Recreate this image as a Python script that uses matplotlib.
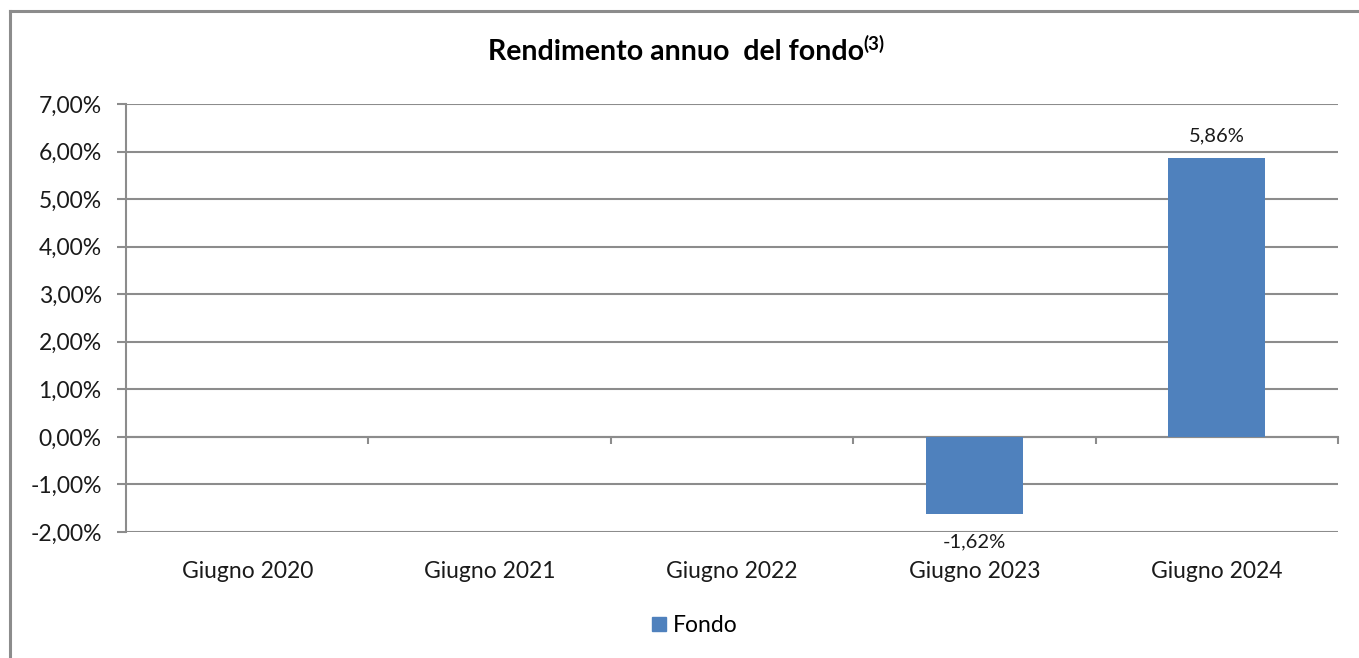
import numpy as np
import matplotlib
matplotlib.use("Agg")
import matplotlib.pyplot as plt
from matplotlib.lines import Line2D
from matplotlib.ticker import FuncFormatter, FixedLocator

plt.rcParams['font.family'] = ['Lato', 'DejaVu Sans']

# data
categories = ['Giugno 2020', 'Giugno 2021', 'Giugno 2022', 'Giugno 2023', 'Giugno 2024']
fondo = [np.nan, np.nan, np.nan, -1.62, 5.86]
series_name = 'Fondo'

W, H = 1359, 658
fig = plt.figure(figsize=(W / 100, H / 100), dpi=100)
ax = fig.add_axes([126 / W, 1 - 532 / H, (1338 - 126) / W, (532 - 104) / H])

grey = '#8c8c8c'
blue = '#4f81bd'
txt = '#1a1a1a'

x = np.arange(len(categories))
bars = ax.bar(x, fondo, width=0.4, color=blue, zorder=3)

ax.set_xlim(-0.5, len(categories) - 0.5)
ax.set_ylim(-2, 7)
ax.set_yticks(np.arange(-2, 8, 1))
ax.yaxis.set_major_formatter(FuncFormatter(lambda v, p: f'{v:.2f}%'.replace('.', ',')))
ax.grid(axis='y', color=grey, linewidth=1.5, zorder=0)
ax.tick_params(axis='y', length=6.5, width=1.5, color=grey, labelsize=16.5, pad=11, labelcolor=txt)

for s in ['top', 'right', 'bottom']:
    ax.spines[s].set_visible(False)
ax.spines['left'].set_color(grey)
ax.spines['left'].set_linewidth(1.5)

# category labels below the plot
ax.set_xticks(x)
ax.set_xticklabels(categories)
ax.tick_params(axis='x', length=0, labelsize=16.5, pad=21, labelcolor=txt)

# x axis line at zero with tick marks between categories
sec = ax.secondary_xaxis(2 / 9)
sec.xaxis.set_major_locator(FixedLocator(np.arange(0.5, len(categories), 1)))
sec.set_xticklabels([])
sec.tick_params(axis='x', direction='out', length=5, width=1.5, color=grey)
sec.spines['bottom'].set_color(grey)
sec.spines['bottom'].set_linewidth(1.5)

# data labels
for xi, v in zip(x, fondo):
    if np.isnan(v):
        continue
    lab = f'{v:.2f}%'.replace('.', ',')
    off = 10 if v >= 0 else -14
    ax.annotate(lab, (xi, v), xytext=(0, off), textcoords='offset points',
                ha='center', va='bottom' if v >= 0 else 'top', fontsize=14.5, color=txt)

# title with superscript
t = fig.text(676 / W, 1 - 52 / H, 'Rendimento annuo  del fondo', ha='center', va='center',
             fontsize=20.5, fontweight='bold')
ax.annotate('(3)', xy=(1, 1), xycoords=t, xytext=(-0.5, 3), textcoords='offset points',
            ha='left', va='top', fontsize=13.5, fontweight='bold', annotation_clip=False)

# legend
handle = Line2D([], [], marker='s', linestyle='none', markersize=10, color=blue)
fig.legend([handle], [series_name], loc='center', bbox_to_anchor=(693 / W, 1 - 625.5 / H),
           frameon=False, fontsize=16.5, handletextpad=0.1, handlelength=1.0)

# outer chart frame
fig.add_artist(Line2D([9.5 / W, 9.5 / W], [0, 1 - 10.5 / H], color=grey, linewidth=2.2,
                      transform=fig.transFigure))
fig.add_artist(Line2D([9.5 / W, 1], [1 - 10.5 / H, 1 - 10.5 / H], color=grey, linewidth=2.2,
                      transform=fig.transFigure))

fig.savefig('out.png', dpi=100)
